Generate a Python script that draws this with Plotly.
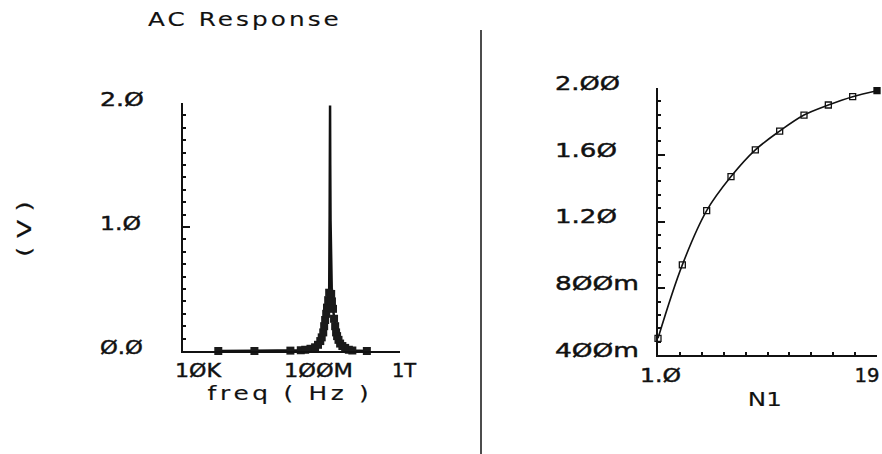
import math
import plotly.graph_objects as go

# ---------------- data ----------------
# Left panel: AC response magnitude vs frequency
freq_hz = [2.0e5, 4.3e6, 9.1e7, 2.2e8, 3.2e8, 5.0e8, 7.4e8, 9.5e8, 1.15e9, 1.3e9,
           1.48e9, 1.6e9, 1.74e9, 1.9e9, 2.04e9, 2.25e9, 2.45e9, 2.55e9, 2.6e9,
           2.64e9, 2.68e9, 2.75e9, 2.9e9, 3.1e9, 3.39e9, 3.7e9, 4.07e9, 4.4e9,
           4.8e9, 5.4e9, 6.2e9, 7.5e9, 9.5e9, 1.3e10, 1.75e10, 6.0e10]
volts = [0.0, 0.0, 0.003, 0.006, 0.01, 0.018, 0.03, 0.05, 0.08, 0.11,
         0.15, 0.20, 0.25, 0.30, 0.35, 0.41, 0.47, 1.10, 1.55,
         1.98, 1.50, 1.05, 0.46, 0.40, 0.34, 0.26, 0.20, 0.15,
         0.12, 0.09, 0.06, 0.04, 0.025, 0.01, 0.004, 0.0]

# Right panel: value vs N1
n1 = [1, 3, 5, 7, 9, 11, 13, 15, 17, 19]
n1_vals = [0.50, 0.94, 1.265, 1.469, 1.629, 1.742, 1.838, 1.898, 1.948, 1.984]

# tick labels
left_y_ticks = [0, 1, 2]
left_y_text = ["Ø.Ø", "1.Ø", "2.Ø"]
left_x_ticks = [1e4, 1e8, 1e12]
left_x_text = ["1ØK", "1ØØM", "1T"]
right_y_ticks = [0.4, 0.8, 1.2, 1.6, 2.0]
right_y_text = ["4ØØm", "8ØØm", "1.2Ø", "1.6Ø", "2.ØØ"]
right_x_ticks = [1, 19]
right_x_text = ["1.Ø", "19"]

# ---------------- figure ----------------
W, H = 882, 454
FONT = "DejaVu Sans"
INK = "#111111"
TICKFONT = dict(family=FONT, size=20, color=INK)


def px_x(p):
    return p / W


def px_y(p):
    return 1 - p / H


fig = go.Figure()

# left: line
fig.add_trace(go.Scatter(x=freq_hz, y=volts, mode="lines",
                         line=dict(color=INK, width=2.5),
                         xaxis="x", yaxis="y", cliponaxis=False, showlegend=False))
# left: markers at sample points (not on the thin spike)
mk_x = [f for f, v in zip(freq_hz, volts) if v < 0.5]
mk_y = [v for v in volts if v < 0.5]
fig.add_trace(go.Scatter(x=mk_x, y=mk_y, mode="markers",
                         marker=dict(symbol="square", size=8, color="#1a1a1a"),
                         xaxis="x", yaxis="y", cliponaxis=False, showlegend=False))

# right: line + markers
symbols = ["square-open"] * (len(n1) - 1) + ["square"]
fig.add_trace(go.Scatter(x=n1, y=n1_vals, mode="lines+markers",
                         line=dict(color=INK, width=1.6, shape="spline"),
                         marker=dict(symbol=symbols, size=6, color=INK,
                                     line=dict(color=INK, width=1.3)),
                         xaxis="x2", yaxis="y2", cliponaxis=False, showlegend=False))

axis_common = dict(showline=True, linecolor=INK, showgrid=False, zeroline=False,
                   showticklabels=False, mirror=False)

fig.update_layout(
    width=W, height=H,
    margin=dict(l=0, r=0, t=0, b=0),
    paper_bgcolor="white", plot_bgcolor="white",
    font=dict(family=FONT, color=INK, size=20),
    xaxis=dict(**axis_common, type="log", range=[4, 12], linewidth=2,
               domain=[px_x(183), px_x(400)], anchor="y", ticks=""),
    yaxis=dict(**axis_common, range=[0, 2], linewidth=2,
               domain=[px_y(351), px_y(103)], anchor="x",
               tickmode="array", tickvals=left_y_ticks, ticks="inside",
               ticklen=7, tickwidth=2, tickcolor=INK,
               minor=dict(tickmode="linear", tick0=0, dtick=0.1, ticks="inside",
                          ticklen=3, tickwidth=1.5, tickcolor=INK)),
    xaxis2=dict(**axis_common, range=[1, 19], linewidth=1.5,
                domain=[px_x(658), px_x(877)], anchor="y2",
                tickmode="array", tickvals=right_x_ticks, ticks="inside",
                ticklen=7, tickwidth=1.5, tickcolor=INK,
                minor=dict(tickmode="linear", tick0=1, dtick=1.8, ticks="inside",
                           ticklen=3, tickwidth=1.5, tickcolor=INK)),
    yaxis2=dict(**axis_common, range=[0.4, 2.0], linewidth=2,
                domain=[px_y(355), px_y(88)], anchor="x2",
                tickmode="array", tickvals=right_y_ticks, ticks="inside",
                ticklen=7, tickwidth=1.5, tickcolor=INK,
                minor=dict(tickmode="linear", tick0=0.4, dtick=0.08, ticks="inside",
                           ticklen=3, tickwidth=1.5, tickcolor=INK)),
    shapes=[dict(type="line", xref="paper", yref="paper",
                 x0=px_x(481), x1=px_x(481), y0=0, y1=px_y(30),
                 line=dict(color=INK, width=1.5))],
)

ann = []
# titles
ann.append(dict(text="AC Response", xref="paper", yref="paper", x=px_x(245), y=px_y(19.5),
                xanchor="center", yanchor="middle", showarrow=False, font=dict(size=20)))
ann.append(dict(text="( V )", xref="paper", yref="paper", x=px_x(24), y=px_y(229),
                xanchor="center", yanchor="middle", textangle=-90, showarrow=False))
ann.append(dict(text="freq ( Hz )", xref="paper", yref="paper", x=px_x(289.5), y=px_y(393),
                xanchor="center", yanchor="middle", showarrow=False))
ann.append(dict(text="N1", xref="paper", yref="paper", x=px_x(765), y=px_y(399),
                xanchor="center", yanchor="middle", showarrow=False))
# left y tick labels
for v, t in zip(left_y_ticks, left_y_text):
    ann.append(dict(text=t, xref="paper", yref="y", x=px_x(98), y=v, yshift=4,
                    xanchor="left", align="left", yanchor="middle", showarrow=False,
                    font=TICKFONT))
# left x tick labels (log axis -> log10 positions)
for v, t in zip(left_x_ticks, left_x_text):
    ann.append(dict(text=t, xref="x", yref="paper", x=math.log10(v), y=px_y(369.5),
                    xshift=-10, xanchor="left", align="left", yanchor="middle",
                    showarrow=False, font=TICKFONT))
# right y tick labels
for v, t in zip(right_y_ticks, right_y_text):
    ann.append(dict(text=t, xref="paper", yref="y2", x=px_x(553), y=v, yshift=5,
                    xanchor="left", align="left", yanchor="middle", showarrow=False,
                    font=TICKFONT))
# right x tick labels
ann.append(dict(text=right_x_text[0], xref="x2", yref="paper", x=right_x_ticks[0],
                y=px_y(375), xshift=-20, xanchor="left", align="left",
                yanchor="middle", showarrow=False, font=TICKFONT))
ann.append(dict(text=right_x_text[1], xref="paper", yref="paper", x=px_x(881),
                y=px_y(375), xanchor="right", align="right",
                yanchor="middle", showarrow=False, font=TICKFONT))
fig.update_layout(annotations=ann)

# Emulate the wide plotter lettering: letter spacing + horizontal stretch
post = """
var spacing = {'AC Response': 2.5, 'freq ( Hz )': 3, '( V )': 0, 'N1': 0};
var target = {'AC Response': 194, 'freq ( Hz )': 165, '( V )': 56, 'N1': 34,
  '\u00d8.\u00d8': 43, '1.\u00d8': 41, '2.\u00d8': 44,
  '1\u00d8K': 47, '1\u00d8\u00d8M': 69, '1T': 25,
  '4\u00d8\u00d8m': 84, '8\u00d8\u00d8m': 84, '1.2\u00d8': 62, '1.6\u00d8': 62,
  '2.\u00d8\u00d8': 65, '19': 25};
document.querySelectorAll('.main-svg text').forEach(function(t){
  var key = t.textContent;
  var s = spacing[key];
  var isTitle = (s !== undefined);
  t.style.letterSpacing = (isTitle ? s : 0) + 'px';
  t.style.stroke = '#111111';
  t.style.strokeWidth = isTitle ? '0.15px' : '0.45px';
  var w = target[key];
  if (w === undefined) return;
  var bb = t.getBBox();
  if (!bb.width) return;
  var k = w / bb.width;
  var anc = t.getAttribute('text-anchor') || 'start';
  var ox = anc === 'middle' ? '50%' : (anc === 'end' ? '100%' : '0%');
  t.style.transformBox = 'fill-box';
  t.style.transformOrigin = ox + ' 50%';
  t.style.transform = 'scaleX(' + k + ')';
});
"""

fig.write_html("out.html", config=dict(displayModeBar=False), post_script=post)
